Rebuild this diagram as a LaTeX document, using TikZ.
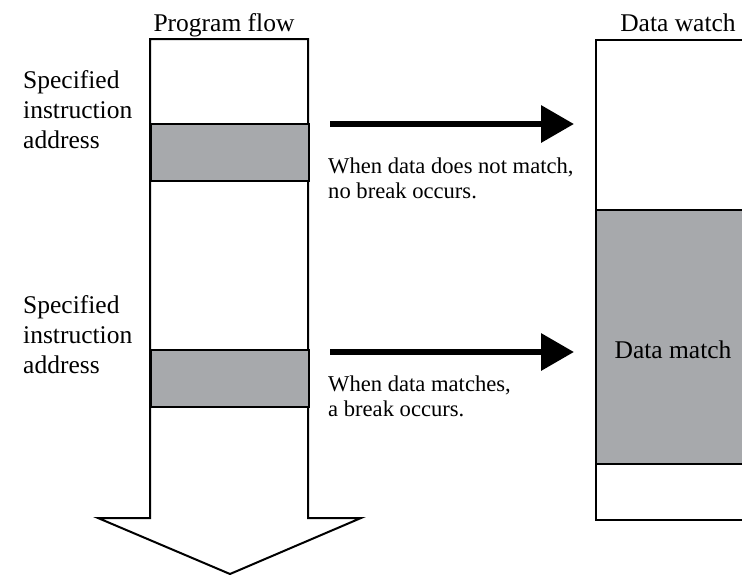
\documentclass[tikz,border=0pt]{standalone}
\usepackage{fontspec}
\setmainfont{Liberation Serif}
\usepackage{tikz}
\usetikzlibrary{arrows.meta,calc,positioning}
\definecolor{bandgray}{RGB}{167,169,172}
\tikzset{
  outline/.style  = {draw, line width=2pt, line join=miter},
  band/.style     = {draw, line width=2pt, fill=bandgray, inner sep=0pt,
                     minimum width=158pt, minimum height=57pt},
  watchbox/.style = {draw, line width=2.4pt, fill=white, inner sep=0pt,
                     minimum width=157pt, minimum height=480pt},
  bigarrow/.style = {-{Triangle[length=33pt,width=36pt]}, line width=6.5pt},
  lbl/.style      = {font=\fontsize{25.5}{30}\selectfont, inner sep=0pt},
  note/.style     = {font=\fontsize{22.6}{25}\selectfont, inner sep=0pt, align=left},
}
\begin{document}
\begin{tikzpicture}[x=1pt,y=-1pt]
 \clip (0,0) rectangle (742,574);
 % program flow
 \draw[outline] (150,39) -- (308,39) -- (308,518) -- (361,518) -- (230,574)
     -- (98,518) -- (150,518) -- cycle;
 \node[band, anchor=north west] (addr1) at (150,123) {};
 \node[band, anchor=north west] (addr2) at (150,349) {};
 \node[lbl, anchor=base] (flowlbl) at (224,31) {Program flow};
 \node[lbl, align=left, anchor=north west] (spec1) at (23,70) {Specified\\instruction\\address};
 \node[lbl, align=left, anchor=north west] (spec2) at (23,295) {Specified\\instruction\\address};
 % data watch
 \node[watchbox, anchor=north west] (watch) at (595,39) {};
 \node[band, line width=2.4pt, minimum width=157pt, minimum height=254pt,
       anchor=north west] (match) at (595,209) {};
 \node[lbl, anchor=base] (matchlbl) at (673,358) {Data match};
 \node[lbl, anchor=base] (watchlbl) at (678,31) {Data watch};
 % break check
 \draw[bigarrow] ([shift={(20pt,-1pt)}]addr1.north east)
     -- ([shift={(-21pt,-1pt)}]addr1.north east -| watch.west);
 \draw[bigarrow] ([shift={(20pt,-3pt)}]addr2.north east)
     -- ([shift={(-21pt,-3pt)}]addr2.north east -| watch.west);
 \node[note, anchor=north west] (nomatch) at (328,158) {When data does not match,\\no break occurs.};
 \node[note, anchor=north west] (domatch) at (328,376) {When data matches,\\a break occurs.};
\end{tikzpicture}
\end{document}
